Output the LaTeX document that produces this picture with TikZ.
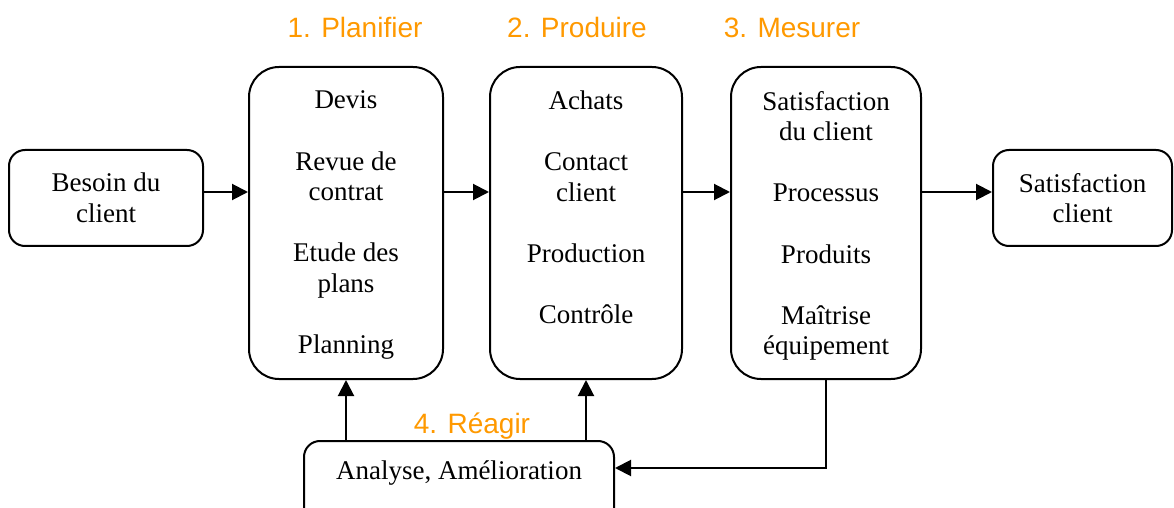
\documentclass[tikz,border=0pt]{standalone}
\usepackage{fontspec}
\setmainfont{Liberation Serif}
\newfontfamily\phasefont{Liberation Sans}
\usetikzlibrary{positioning,arrows.meta}
\definecolor{phaseorange}{RGB}{255,153,0}
\tikzstyle{line}=[draw, line width=1pt, -{Triangle[length=8pt,width=8pt]}]
\tikzstyle{block}=[draw, line width=1pt, rounded corners=8pt, minimum width=97pt, minimum height=48pt, align=center, font=\fontsize{13.5}{15.3}\selectfont]
\tikzstyle{stage}=[draw, line width=1pt, rounded corners=15pt, minimum width=96pt, minimum height=156pt]
\tikzstyle{items}=[align=center, inner sep=0pt, font=\fontsize{13.5}{15.3}\selectfont]
\tikzstyle{phase}=[text=phaseorange, anchor=base, font=\phasefont\fontsize{14}{16}\selectfont]

\begin{document}
\begin{tikzpicture}[x=0.5pt,y=-0.5pt]
    \clip (0,0) rectangle (1174,508);
    \node[block] (besoin) at (106,198) {Besoin du\\client};
    \node[stage, minimum width=97pt] (plan) at (346,223) {};
    \node[stage] (prod) at (586,223) {};
    \node[stage, minimum width=95pt] (mesure) at (826,223) {};
    \node[block, minimum width=89.5pt] (satis) at (1082.5,198) {Satisfaction\\client};
    \node[block, minimum width=155pt, minimum height=50pt, anchor=north] (analyse) at (459,440) {};

    \node[items, below=12.3pt of plan.north] (plantxt) {Devis\\[15.3pt]Revue de\\contrat\\[15.3pt]Etude des\\plans\\[15.3pt]Planning};
    \node[items, below=12.3pt of prod.north] (prodtxt) {Achats\\[15.3pt]Contact\\client\\[15.3pt]Production\\[15.3pt]Contrôle};
    \node[items, below=12.3pt of mesure.north] (mesuretxt) {Satisfaction\\du client\\[15.3pt]Processus\\[15.3pt]Produits\\[15.3pt]Maîtrise\\équipement};
    \node[items, below=10pt of analyse.north] (analysetxt) {Analyse, Amélioration};

    \node[phase] (planifier) at (355,38) {1. Planifier};
    \node[phase] (produire) at (577,38) {2. Produire};
    \node[phase] (mesurer) at (792,38) {3. Mesurer};
    \node[phase] (reagir) at (472,433) {4. Réagir};

    \path[line] ([yshift=3pt]besoin.east) -- ([yshift=15.5pt]plan.west);
    \path[line] ([yshift=15.5pt]plan.east) -- ([yshift=15.5pt]prod.west);
    \path[line] ([yshift=15.5pt]prod.east) -- ([yshift=15.5pt]mesure.west);
    \path[line] ([yshift=15.5pt]mesure.east) -- ([yshift=3pt]satis.west);
    \path[line] (plan.south |- analyse.north) -- (plan.south);
    \path[line] (prod.south |- analyse.north) -- (prod.south);
    \path[line] (mesure.south) |- ([yshift=11.5pt]analyse.east);
\end{tikzpicture}
\end{document}
